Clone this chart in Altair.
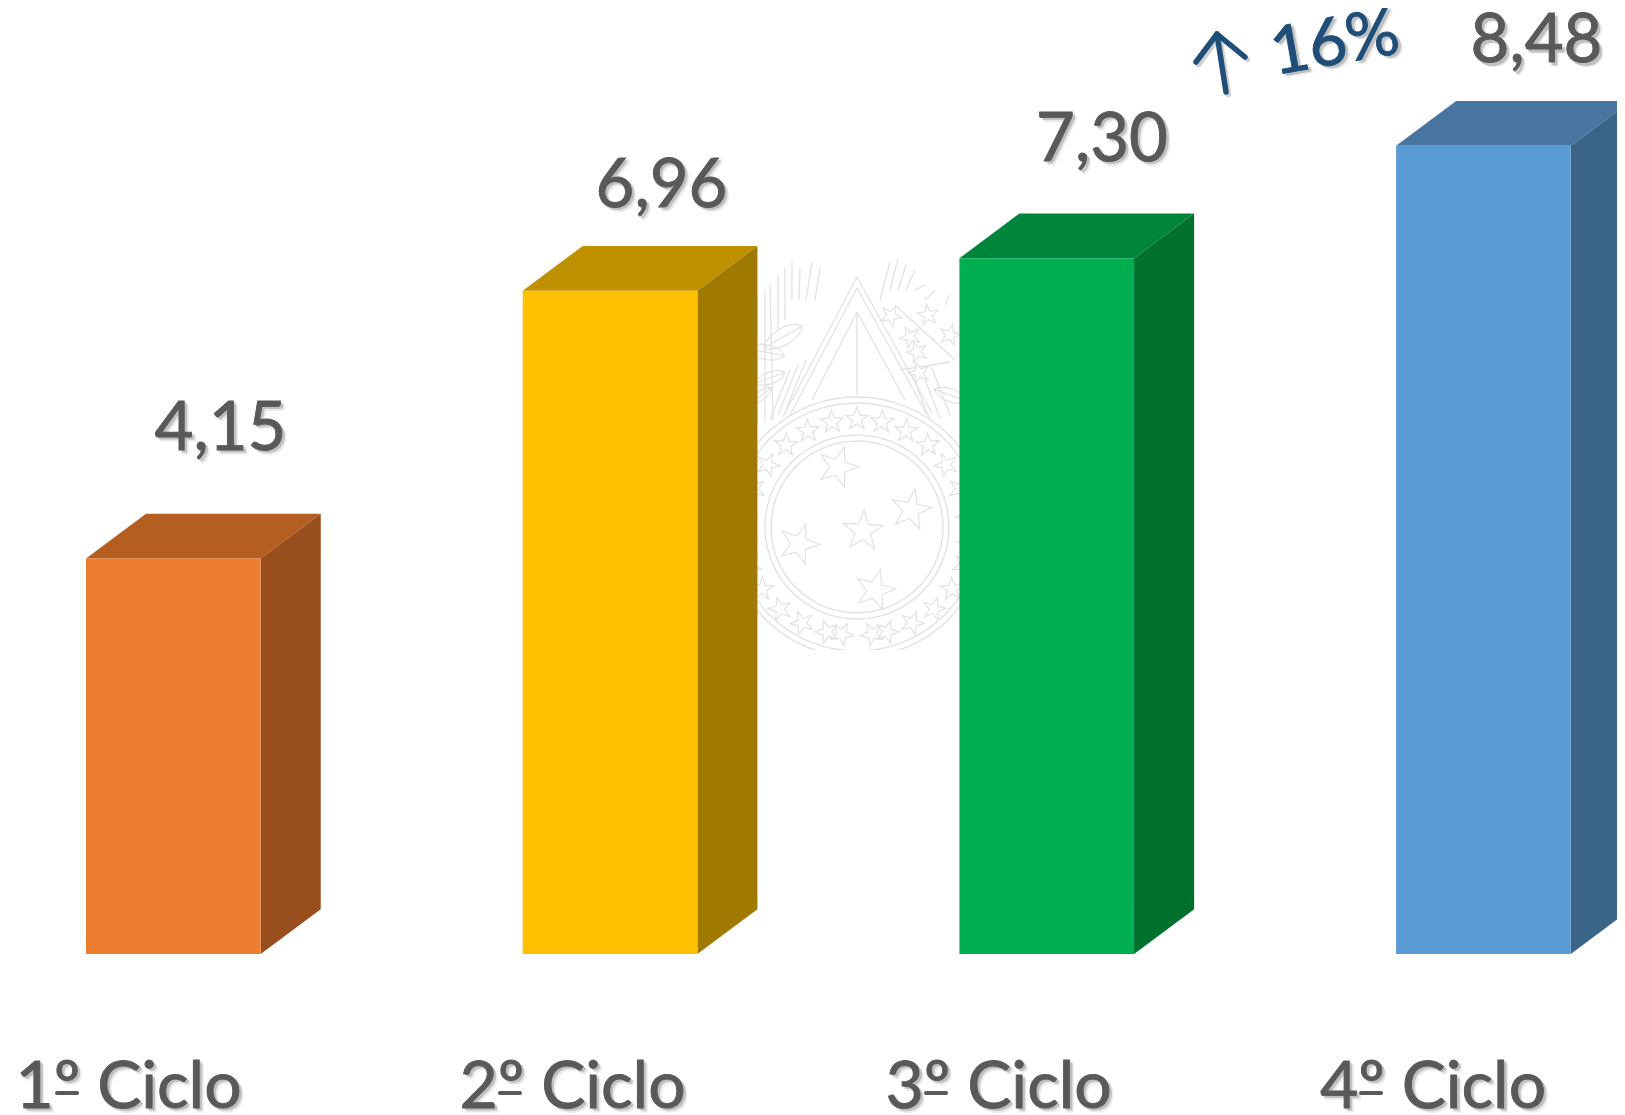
import altair as alt
import pandas as pd

# ---------- chart values ----------
categories = ["1º Ciclo", "2º Ciclo", "3º Ciclo", "4º Ciclo"]
values = [4.15, 6.96, 7.30, 8.48]
value_labels = ["4,15", "6,96", "7,30", "8,48"]
front_colors = ["#ED7D31", "#FFC000", "#00B050", "#5B9BD5"]
top_colors = ["#B55E21", "#BF9000", "#00863C", "#4775A0"]
side_colors = ["#984F1D", "#A07A00", "#00702F", "#3A6488"]
growth_label = "16%"

# ---------- layout ----------
W, H = 1609, 1107
ORIGIN_X, BASE_Y = 86.0, 954.0   # absolute px of first bar's left edge / zero line
STEP, PER_UNIT = 436.7, 95.3     # px per category, px per value unit
BAR_W = 0.4                      # in category units
DEPTH_X, DEPTH_Y = 0.1375, 0.47  # 3D depth, category units / value units
FONT = "Lato"
INK = "#595959"
BLUE = "#1F4E79"
FAINT = "#E2E2E2"

def ux(p): return (p - ORIGIN_X) / STEP
def uy(p): return (BASE_Y - p) / PER_UNIT

label_x_px = [220.5, 661.5, 1102.0, 1536.5]
label_y_px = [449.5, 206.5, 160.6, 62.0]
cat_x_px = [128.5, 572.5, 998.6, 1433.0]
cat_y_px = [1107.5] * 4
ord_rule_px = [(57, 77), (500, 520), (926, 946), (1361, 1381)]
ord_rule_y = 1093

sx = alt.Scale(domain=[ux(8), ux(8 + W)], range=[0, W], nice=False, zero=False)
sy = alt.Scale(domain=[uy(8 + H), uy(8)], range=[H, 0], nice=False, zero=False)
X = lambda f="x": alt.X(f"{f}:Q", scale=sx, axis=None)
Y = lambda f="y": alt.Y(f"{f}:Q", scale=sy, axis=None)
C = alt.Color("color:N", scale=None, legend=None)

# ---------- bar faces ----------
front, side, top = [], [], []
for i, v in enumerate(values):
    x0, x1 = i, i + BAR_W
    front.append(dict(x=x0, x2=x1, y=0, y2=v, color=front_colors[i]))
    side += [dict(x=x1, y=v, y2=0, color=side_colors[i]),
             dict(x=x1 + DEPTH_X, y=v + DEPTH_Y, y2=DEPTH_Y, color=side_colors[i])]
    top += [dict(y=v, x=x0, x2=x1, color=top_colors[i]),
            dict(y=v + DEPTH_Y, x=x0 + DEPTH_X, x2=x1 + DEPTH_X, color=top_colors[i])]

front_l = alt.Chart(pd.DataFrame(front)).mark_rect().encode(x=X(), x2="x2:Q", y=Y(), y2="y2:Q", color=C)
side_l = alt.Chart(pd.DataFrame(side)).mark_area(clip=True).encode(x=X(), y=Y(), y2="y2:Q", color=C)
top_l = alt.Chart(pd.DataFrame(top)).mark_area(orient="horizontal", clip=True).encode(y=Y(), x=X(), x2="x2:Q", color=C)

# ---------- text with soft shadow ----------
def shadowed(df, size, color, **mark):
    layers = []
    for off, op in [(4, 0.08), (2.5, 0.18)]:
        layers.append(alt.Chart(df).mark_text(font=FONT, fontSize=size, color="#000000", opacity=op,
                                              stroke="#000000", strokeWidth=0.8,
                                              dx=off, dy=off, align="center", **mark)
                      .encode(x=X(), y=Y(), text="t:N"))
    layers.append(alt.Chart(df).mark_text(font=FONT, fontSize=size, color=color, align="center",
                                          stroke=color, strokeWidth=0.9, **mark)
                  .encode(x=X(), y=Y(), text="t:N"))
    return layers

val_df = pd.DataFrame({"x": [ux(p) for p in label_x_px], "y": [uy(p) for p in label_y_px], "t": value_labels})
cat_df = pd.DataFrame({"x": [ux(p) for p in cat_x_px], "y": [uy(p) for p in cat_y_px], "t": categories})
growth_df = pd.DataFrame({"x": [ux(1335)], "y": [uy(44)], "t": [growth_label]})

text_layers = (shadowed(val_df, 67, INK, baseline="alphabetic")
               + shadowed(cat_df, 66, INK, baseline="alphabetic")
               + shadowed(growth_df, 66, BLUE, baseline="middle", angle=350))

# underline of the ordinal sign, as the reference's typeface draws it
ord_df = pd.DataFrame([dict(x=ux(p), y=uy(ord_rule_y), g=i, k=k) for i, s in enumerate(ord_rule_px) for k, p in enumerate(s)])
ord_l = alt.Chart(ord_df).mark_line(color=INK, strokeWidth=4, strokeCap="round").encode(
    x=X(), y=Y(), detail="g:N", order="k:Q")

# ---------- growth arrow ----------
arrow_rows = []
for gid, pts in enumerate([[(1196, 62), (1217, 34), (1245, 57)], [(1217, 34), (1226, 92)]]):
    for k, (a, b) in enumerate(pts):
        arrow_rows.append(dict(x=ux(a), y=uy(b), g=gid, k=k))
arrow_df = pd.DataFrame(arrow_rows)
arrow_shadow = alt.Chart(arrow_df).mark_line(color="#000000", opacity=0.18, strokeWidth=5.5, strokeCap="round",
                                             strokeJoin="round").encode(
    x=alt.X("sx:Q", scale=sx, axis=None), y=alt.Y("sy:Q", scale=sy, axis=None), detail="g:N", order="k:Q"
).transform_calculate(sx=f"datum.x + {2.5/STEP}", sy=f"datum.y - {2.5/PER_UNIT}")
arrow_line = alt.Chart(arrow_df).mark_line(color=BLUE, strokeWidth=5.5, strokeCap="round", strokeJoin="round").encode(
    x=X(), y=Y(), detail="g:N", order="k:Q")

# ---------- faint emblem watermark between the bars ----------
STAR = ("M0,-1L0.235,-0.324L0.951,-0.309L0.38,0.124L0.588,0.809L0,0.4L-0.588,0.809"
        "L-0.38,0.124L-0.951,-0.309L-0.235,-0.324Z")
LEAF = "M0,-1C0.5,-0.6 0.5,0.5 0,1C-0.5,0.5 -0.5,-0.6 0,-1ZM0,-1L0,1"
CX, CY = 857, 527

ring_df = pd.DataFrame({"x": [ux(CX)] * 4, "y": [uy(CY)] * 4, "s": [(2 * r) ** 2 for r in (86, 92, 124, 130)]})
ring = alt.Chart(ring_df).mark_point(filled=False, color=FAINT, strokeWidth=1.4, opacity=1).encode(
    x=X(), y=Y(), size=alt.Size("s:Q", scale=None, legend=None))

small_star_dx = [0, 25, -25, 49, -49, 71, -71, 89, -89, 103, -103, 111, -111, 112, -112,
                 107, -107, 95, -95, 77, -77, 55, -55, 30, -30, 15, -15]
small_star_dy = [-108, -105, -105, -96, -96, -82, -82, -62, -62, -38, -38, -12, -12, 14, 14,
                 38, 38, 62, 62, 82, 82, 96, 96, 105, 105, 107, 107]
big_star_px = [(838, 467), (911, 510), (863, 531), (799, 544), (875, 590)]
star_df = pd.DataFrame(
    [dict(x=ux(CX + a), y=uy(CY + b), s=(2 * 12) ** 2, r=(a * 3) % 72) for a, b in zip(small_star_dx, small_star_dy)]
    + [dict(x=ux(a), y=uy(b), s=(2 * 21) ** 2, r=(a % 40) - 20) for a, b in big_star_px])
stars = alt.Chart(star_df).mark_point(shape=STAR, filled=False, color=FAINT, strokeWidth=1.2, opacity=1).encode(
    x=X(), y=Y(), size=alt.Size("s:Q", scale=None, legend=None), angle=alt.Angle("r:Q", scale=None))

segments = [
    # triangles and spine
    ((783, 417), (857, 277)), ((857, 277), (932, 413)), ((789, 417), (857, 288)), ((857, 288), (926, 413)),
    ((812, 400), (857, 312)), ((857, 312), (905, 400)), ((857, 312), (857, 395)),
    # left rays
    ((757, 425), (757, 295)), ((765, 422), (765, 290)), ((773, 420), (770, 285)), ((778, 330), (778, 275)),
    ((785, 320), (785, 268)), ((792, 300), (792, 262)), ((799, 300), (800, 268)), ((806, 300), (812, 262)),
    ((815, 300), (820, 268)), ((770, 420), (790, 370)), ((778, 415), (798, 365)), ((786, 410), (806, 360)),
    # right rays
    ((880, 300), (890, 262)), ((890, 290), (898, 258)), ((898, 290), (906, 265)), ((906, 290), (915, 270)),
    ((915, 290), (925, 285)), ((925, 300), (935, 290)), ((945, 305), (950, 295)),
    ((930, 420), (912, 375)), ((940, 418), (922, 372)), ((950, 415), (932, 368)),
    # right branch
    ((895, 305), (955, 360)), ((900, 370), (950, 362)),
]
seg_df = pd.DataFrame([dict(x=ux(p[0]), y=uy(p[1]), g=i, k=k) for i, s in enumerate(segments) for k, p in enumerate(s)])
seg_l = alt.Chart(seg_df).mark_line(color=FAINT, strokeWidth=1.3).encode(x=X(), y=Y(), detail="g:N", order="k:Q")

leaf_px = [(783, 337, 60, 45), (765, 352, 100, 40), (770, 378, 70, 32), (762, 395, 50, 24), (950, 395, 110, 34)]
leaf_df = pd.DataFrame([dict(x=ux(a), y=uy(b), r=c, s=d ** 2) for a, b, c, d in leaf_px])
leaves = alt.Chart(leaf_df).mark_point(shape=LEAF, filled=False, color=FAINT, strokeWidth=1.2, opacity=1).encode(
    x=X(), y=Y(), size=alt.Size("s:Q", scale=None, legend=None), angle=alt.Angle("r:Q", scale=None))

branch_star_px = [(891, 316), (928, 315), (910, 337), (950, 335), (917, 352), (919, 373)]
bstar_df = pd.DataFrame([dict(x=ux(a), y=uy(b), s=(2 * 11) ** 2, r=a % 72) for a, b in branch_star_px])
bstars = alt.Chart(bstar_df).mark_point(shape=STAR, filled=True, fill="#FFFFFF", stroke=FAINT, strokeWidth=1.2,
                                        opacity=1).encode(
    x=X(), y=Y(), size=alt.Size("s:Q", scale=None, legend=None), angle=alt.Angle("r:Q", scale=None))

# white mask ends the emblem's lower edge, as the cropped picture does
mask_df = pd.DataFrame([dict(x=ux(740), x2=ux(980), y=uy(650), y2=uy(690))])
mask = alt.Chart(mask_df).mark_rect(color="#FFFFFF").encode(x=X(), x2="x2:Q", y=Y(), y2="y2:Q")

chart = alt.layer(
    ring, stars, seg_l, leaves, bstars, mask,
    top_l, side_l, front_l,
    arrow_shadow, arrow_line,
    *text_layers, ord_l,
).properties(width=W, height=H, padding=0, autosize=alt.AutoSizeParams(type="none"), background="#FFFFFF"
).configure_view(stroke=None)

chart.save("out.html", embed_options={"renderer": "svg", "actions": False})
